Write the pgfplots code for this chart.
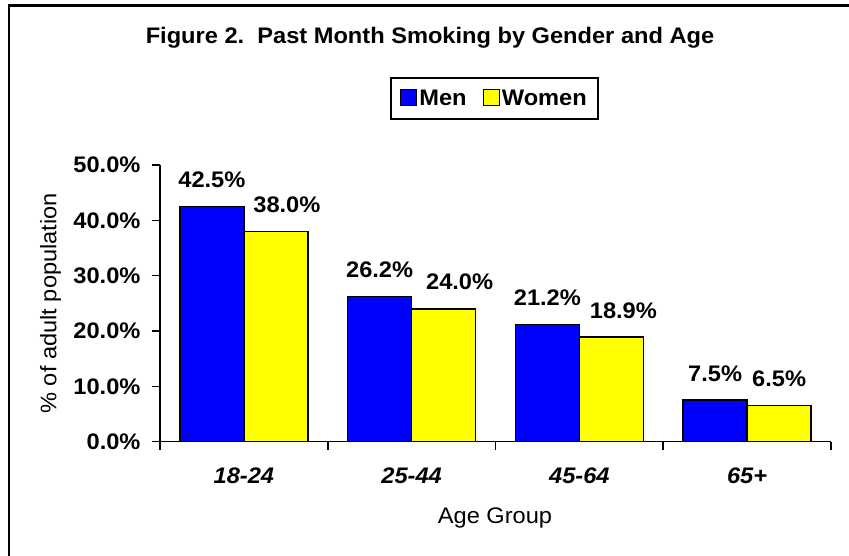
\documentclass[border=0pt]{standalone}
\usepackage{fontspec}
\setmainfont{Liberation Sans}[FakeStretch=1.05]
\usepackage{pgfplots}
\usepackage{pgfplotstable}
\pgfplotsset{compat=1.18}

\definecolor{menblue}{RGB}{0,0,255}
\definecolor{womyellow}{RGB}{255,255,0}
\newcommand{\bigf}{\fontsize{22.5}{25}\selectfont}

% past month smoking, percent of adults; dx = label nudge in pt
\pgfplotstableread{
x  men  dxm  women  dxw
0  42.5  0   38.0   11
1  26.2  0   24.0   16
2  21.2  0   18.9   12
3  7.5   0   6.5    0
}\smoking

\begin{document}
\begin{tikzpicture}
\useasboundingbox (0pt,0pt) rectangle (849pt,556pt);
\draw[line width=2.2pt] (9pt,0pt) -- (9pt,550.5pt) -- (849pt,550.5pt);
\node[font=\bigf\bfseries] at (430pt,518pt) {Figure 2.\ \ Past Month Smoking by Gender and Age};
\begin{axis}[
  at={(160pt,114.3pt)}, anchor=south west,
  scale only axis, width=671pt, height=276.7pt,
  xmin=-0.5, xmax=3.5, ymin=0, ymax=50,
  axis x line*=bottom, axis y line*=left,
  axis line style={-, line width=1.6pt},
  tick align=outside, major tick length=8pt,
  tick style={line width=1.6pt, black},
  ytick={0,10,...,50},
  yticklabel={\pgfmathprintnumber[fixed,fixed zerofill,precision=1]{\tick}\%},
  yticklabel style={font=\bigf\bfseries, xshift=-8pt},
  /pgf/number format/assume math mode=true,
  xtick={-0.5,0.5,1.5,2.5,3.5}, xticklabels={},
  extra x ticks={0,1,2,3},
  extra x tick labels={18-24,25-44,45-64,65+},
  extra x tick style={major tick length=0pt,
    xticklabel style={font=\bigf\bfseries\itshape, yshift=-23pt}},
  ylabel={\% of adult population},
  ylabel style={font=\bigf, at={(axis description cs:-0.163,0.5)}, anchor=center},
  xlabel={Age Group},
  xlabel style={font=\bigf, at={(axis description cs:0.4993,-0.2757)}, anchor=center},
  ybar=0pt, bar width=64pt,
  nodes near coords={\pgfmathprintnumber[fixed,fixed zerofill,precision=1]{\pgfplotspointmeta}\%},
  every node near coord/.append style={font=\bigf\bfseries, inner sep=0pt, anchor=south, yshift=18pt, black},
  legend columns=2,
  legend style={at={(axis description cs:0.4985,1.2403)}, anchor=center,
    draw=black, line width=1.5pt, font=\bigf\bfseries,
    inner xsep=9pt, inner ysep=10pt,
    /tikz/every even column/.append style={column sep=14pt}},
]
\addplot[fill=menblue, draw=black, line width=1.5pt,
  visualization depends on={\thisrow{dxm} \as \dx},
  nodes near coords style={xshift=\dx pt},
  legend image code/.code={\draw[fill=menblue, draw=black, line width=1.2pt] (0pt,-7pt) rectangle (16pt,9pt);}]
  table[x=x, y=men] {\smoking};
\addlegendentry{Men}
\addplot[fill=womyellow, draw=black, line width=1.5pt,
  visualization depends on={\thisrow{dxw} \as \dx},
  nodes near coords style={xshift=\dx pt},
  legend image code/.code={\draw[fill=womyellow, draw=black, line width=1.2pt] (0pt,-7pt) rectangle (16pt,9pt);}]
  table[x=x, y=women] {\smoking};
\addlegendentry{Women}
\end{axis}
\end{tikzpicture}
\end{document}
